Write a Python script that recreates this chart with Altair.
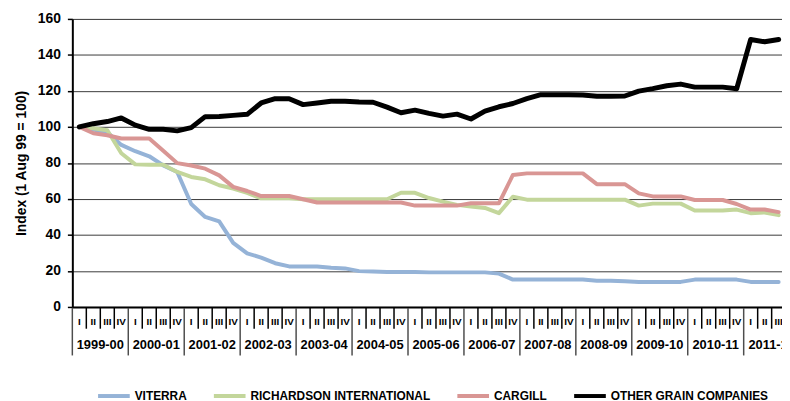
import altair as alt
import pandas as pd

FONT = "Liberation Sans, Arial, Helvetica, sans-serif"

companies = ["VITERRA", "RICHARDSON INTERNATIONAL", "CARGILL", "OTHER GRAIN COMPANIES"]
colors = ["#95B3D7", "#C3D69B", "#D99694", "#000000"]

years = ["1999-00", "2000-01", "2001-02", "2002-03", "2003-04", "2004-05", "2005-06",
         "2006-07", "2007-08", "2008-09", "2009-10", "2010-11", "2011-12"]
quarter_names = ["I", "II", "III", "IV"]
n_quarters = 51

viterra = [100, 98.5, 97, 90, 86.5, 83.7, 78.6, 75, 57.2, 50, 47.5, 35.6, 29.8, 27.4, 24.3,
           22.5, 22.5, 22.5, 21.8, 21.4, 19.9, 19.7, 19.4, 19.4, 19.4, 19.2, 19.2, 19.2, 19.2,
           19.2, 18.5, 15.2, 15.2, 15.2, 15.2, 15.2, 15.2, 14.6, 14.6, 14.3, 13.9, 13.9, 13.9,
           13.9, 15.2, 15.2, 15.2, 15.2, 13.9, 13.9, 13.9]
richardson = [100, 99.3, 98.2, 85.4, 79.2, 79, 79, 75, 72.2, 70.9, 67.6, 65.8, 63.4, 60.3,
              60.3, 60.3, 59.8, 59.8, 59.8, 59.8, 59.8, 59.8, 59.8, 63.4, 63.4, 60.5, 58.5,
              56.7, 55.8, 55, 52.1, 61.2, 59.6, 59.6, 59.6, 59.6, 59.6, 59.6, 59.6, 59.6, 56.3,
              57.4, 57.4, 57.4, 53.6, 53.6, 53.6, 54.1, 52.1, 52.5, 51]
cargill = [100, 96.5, 95.4, 93.6, 93.6, 93.6, 86.8, 79.9, 78.6, 76.8, 73.1, 66.7, 64.4, 61.6,
           61.6, 61.6, 59.8, 58, 58, 58, 58, 58, 58, 58, 56.3, 56.3, 56.3, 56.3, 57.6, 57.6,
           57.6, 73.3, 74.2, 74.2, 74.2, 74.2, 74.2, 68.2, 68.2, 68.2, 63.1, 61.4, 61.4, 61.4,
           59.4, 59.4, 59.4, 57.2, 54.1, 54.1, 52.7]
other = [100, 101.8, 103, 105, 101, 98.7, 98.7, 97.8, 99.6, 105.7, 105.8, 106.4, 107, 113.3,
         115.7, 115.7, 112.4, 113.3, 114.3, 114.3, 113.9, 113.7, 111, 107.9, 109.3, 107.5, 106,
         107.1, 104.4, 108.8, 111.2, 113, 115.7, 117.9, 117.9, 117.9, 117.7, 117, 117, 117.2,
         119.9, 121.3, 122.9, 123.8, 122.1, 122.1, 122.1, 121.2, 148.6, 147.3, 148.6]

series = [viterra, richardson, cargill, other]

rows = []
for name, vals in zip(companies, series):
    for i, v in enumerate(vals):
        rows.append({"q": i + 0.5, "value": v, "company": name, "k": i})
lines_df = pd.DataFrame(rows)

div_df = pd.DataFrame({"q": list(range(0, 53))})
div_df["year"] = div_df["q"] % 4 == 0
qlab_df = pd.DataFrame({"q": [i + 0.5 for i in range(n_quarters)],
                        "label": [quarter_names[i % 4] for i in range(n_quarters)]})
ylab_df = pd.DataFrame({"q": [4 * j + 2 for j in range(len(years))], "label": years})

xscale = alt.Scale(domain=[0, 50.74], nice=False, zero=False)
xaxis = alt.Axis(labels=False, ticks=False, grid=False, title=None,
                 domainColor="black", domainWidth=2)
yscale = alt.Scale(domain=[0, 160], nice=False)
yaxis = alt.Axis(values=list(range(0, 161, 20)), title="Index (1  Aug 99 = 100)",
                 grid=True, gridColor="#3a3a3a", gridWidth=1,
                 domainColor="black", domainWidth=2,
                 tickColor="black", tickWidth=1.5, tickSize=5,
                 labelFont=FONT, labelFontSize=14, labelFontWeight="bold",
                 labelColor="black", labelPadding=7,
                 titleFont=FONT, titleFontSize=14, titleFontWeight="bold",
                 titleColor="black", titlePadding=9)
color = alt.Color("company:N", sort=companies,
                  scale=alt.Scale(domain=companies, range=colors),
                  legend=alt.Legend(orient="none", legendX=24, legendY=363,
                                    direction="horizontal", title=None,
                                    symbolType="stroke", symbolSize=1024,
                                    symbolStrokeWidth=4, labelFont=FONT,
                                    labelFontSize=12, labelFontWeight="bold",
                                    labelColor="black", labelOffset=3,
                                    columnPadding=19, labelLimit=400))

base = alt.Chart(lines_df).encode(
    x=alt.X("q:Q", scale=xscale, axis=xaxis),
    y=alt.Y("value:Q", scale=yscale, axis=yaxis),
    color=color,
    order=alt.Order("k:Q"),
)
colored = base.transform_filter(alt.datum.company != "OTHER GRAIN COMPANIES").mark_line(
    strokeWidth=4, strokeJoin="round", strokeCap="round")
black = base.transform_filter(alt.datum.company == "OTHER GRAIN COMPANIES").mark_line(
    strokeWidth=5, strokeJoin="round", strokeCap="round")

qdiv = alt.Chart(div_df).transform_filter("!datum.year").mark_rule(
    color="black", strokeWidth=1.5).encode(
    x=alt.X("q:Q", scale=xscale, axis=xaxis),
    y=alt.value(292), y2=alt.value(313))

ydiv = alt.Chart(div_df).transform_filter("datum.year").mark_rule(
    color="#4d4d4d", strokeWidth=1.5).encode(
    x=alt.X("q:Q", scale=xscale, axis=xaxis),
    y=alt.value(292), y2=alt.value(340))

qlab = alt.Chart(qlab_df).mark_text(font=FONT, fontSize=10, fontWeight="bold",
                                     color="black", baseline="middle").encode(
    x=alt.X("q:Q", scale=xscale, axis=xaxis),
    y=alt.value(306), text="label:N")

ylab = alt.Chart(ylab_df).mark_text(font=FONT, fontSize=13, fontWeight="bold",
                                     color="black", baseline="middle").encode(
    x=alt.X("q:Q", scale=xscale, axis=xaxis),
    y=alt.value(329), text="label:N")

chart = alt.layer(colored, black, qdiv, ydiv, qlab, ylab).properties(
    width=717, height=291,
    autosize=alt.AutoSizeParams(type="none"),
    padding={"left": 65, "top": 9, "right": 0, "bottom": 93},
).configure_view(stroke=None).configure(background="white")

chart.save("out.html", embed_options={"renderer": "svg", "actions": False})
